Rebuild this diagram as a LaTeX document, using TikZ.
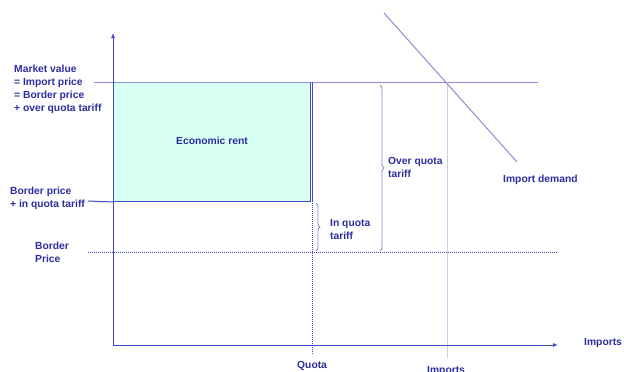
\documentclass[tikz,border=0pt]{standalone}
\usepackage{fontspec}
\setmainfont{Liberation Sans}
\usetikzlibrary{arrows.meta,decorations.pathreplacing}
\definecolor{txtblue}{RGB}{45,45,160}
\definecolor{lineblue}{RGB}{70,70,200}
\definecolor{lightline}{RGB}{140,140,215}
\definecolor{paleline}{RGB}{205,205,235}
\definecolor{rentfill}{RGB}{215,255,243}
\tikzset{
  lbl/.style={font=\fontsize{10.3}{13}\selectfont\bfseries, text=txtblue, inner sep=0pt, align=left, anchor=north west},
  axisline/.style={draw=lineblue, line width=0.9pt, -{Latex[length=5pt,width=4pt]}},
  dotline/.style={draw=lineblue, line width=1pt, dash pattern=on 1pt off 1pt},
  bracestyle/.style={draw=lightline, line width=0.9pt, decorate, decoration={brace, amplitude=4pt}},
}
\begin{document}
\begin{tikzpicture}[x=1pt,y=-1pt]
\useasboundingbox (0,0) rectangle (624,372);
% coordinates
\coordinate (O) at (113,345);
\coordinate (ytop) at (113,33);
\coordinate (xend) at (558,345);
\coordinate (bpL) at (88,252);
\coordinate (bpR) at (558,252);
\coordinate (mvL) at (94,82);
\coordinate (mvR) at (538,82);
\coordinate (iqL) at (88,201);
\coordinate (qTop) at (312.5,82);
\coordinate (qMid) at (312.5,201);
\coordinate (qBot) at (312.5,355);
\coordinate (dA) at (384,13);
\coordinate (dB) at (517,162);
\coordinate (impTop) at (447,82);
\coordinate (impBot) at (447,358);
% rent rectangle
\node[draw=lineblue, line width=1pt, fill=rentfill, minimum width=197pt, minimum height=119pt, inner sep=0pt, anchor=north west] (rent) at (113,82) {};
\node[font=\fontsize{10.3}{13}\selectfont\bfseries, text=txtblue] (rentlbl) at (212,141) {Economic rent};
% lines
\draw[lightline, line width=1pt] (mvL) -- (mvR);
\draw[lineblue, line width=1pt] (iqL) -- (rent.south west);
\draw[dotline] (bpL) -- (bpR);
\draw[lineblue, line width=1pt] (qTop) -- (qMid);
\draw[dotline] (qMid) -- (qBot);
\draw[paleline, line width=1pt] (impTop) -- (impBot);
\draw[lightline, line width=1pt] (dA) -- (dB);
% axes
\draw[axisline] (O) -- (ytop);
\draw[axisline] (O) -- (xend);
% braces
\coordinate (b1t) at (316,203);
\coordinate (b1b) at (316,251);
\draw[bracestyle] (b1t) -- (b1b);
\coordinate (b2t) at (380,85);
\coordinate (b2b) at (380,251);
\draw[bracestyle] (b2t) -- (b2b);
% labels
\node[lbl] (mv) at (14,65) {Market value\\= Import price\\= Border price\\+ over quota tariff};
\node[lbl] (bpiq) at (10,187) {Border price\\+ in quota tariff};
\node[lbl] (bp) at (35,242) {Border\\Price};
\node[lbl] (iq) at (330,219) {In quota\\tariff};
\node[lbl] (oq) at (388,157) {Over quota\\tariff};
\node[lbl] (id) at (503,175) {Import demand};
\node[lbl] (quota) at (297,361) {Quota};
\node[lbl] (imp2) at (427,366) {Imports};
\node[lbl] (imp1) at (584,338) {Imports};
\end{tikzpicture}
\end{document}
